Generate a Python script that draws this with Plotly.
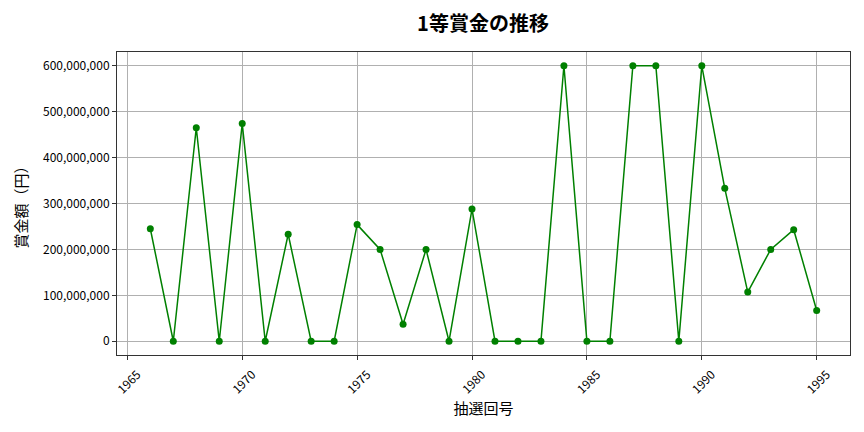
import plotly.graph_objects as go

years = list(range(1966, 1996))
prizes = [
    245000000, 0, 465000000, 0, 474000000, 0, 233000000, 0, 0, 254000000,
    200000000, 37000000, 200000000, 0, 288000000, 0, 0, 0, 600000000, 0,
    0, 600000000, 600000000, 0, 600000000, 333000000, 107000000, 200000000, 243000000, 67000000,
]
x_ticks = [1965, 1970, 1975, 1980, 1985, 1990, 1995]
y_ticks = [0, 100000000, 200000000, 300000000, 400000000, 500000000, 600000000]

FONT = "Noto Sans CJK JP"
OFF = 8  # page body margin

L, R, T, B = 117 - OFF, 22, 52 - OFF, 85

fig = go.Figure()
fig.add_trace(go.Scatter(
    x=years, y=prizes, mode="lines+markers",
    line=dict(color="green", width=1.5),
    marker=dict(color="green", size=7),
))

fig.update_layout(
    width=864, height=432,
    margin=dict(l=L, r=R, t=T, b=B, autoexpand=False),
    paper_bgcolor="white", plot_bgcolor="white",
    showlegend=False,
    font=dict(family=FONT, color="black", size=12),
    title=dict(text="<b>1等賞金の推移</b>", x=(483 - OFF) / 864, xanchor="center",
               y=1 - (24 - OFF) / 432, yanchor="middle", font=dict(size=20, family=FONT)),
)
fig.update_xaxes(
    range=[1964.55, 1996.45], tickmode="array", tickvals=x_ticks,
    ticktext=[str(v) for v in x_ticks], tickangle=-45,
    ticklabelshift=10, ticklabelstandoff=3,
    showgrid=True, gridcolor="#b0b0b0", gridwidth=1,
    showline=True, linecolor="#333", linewidth=1, mirror=True,
    ticks="outside", ticklen=4, tickcolor="#333", zeroline=False, automargin=False,
    title=dict(text="抽選回号", font=dict(size=15, family=FONT), standoff=6),
)
fig.update_yaxes(
    range=[-30000000, 630000000], tickmode="array", tickvals=y_ticks,
    ticktext=[f"{v:,}" for v in y_ticks],
    showgrid=True, gridcolor="#b0b0b0", gridwidth=1,
    showline=True, linecolor="#333", linewidth=1, mirror=True,
    ticks="outside", ticklen=4, tickcolor="#333", zeroline=False, automargin=False,
    title=dict(text="賞金額（円）", font=dict(size=15, family=FONT), standoff=11),
)

fig.write_html("out.html")
